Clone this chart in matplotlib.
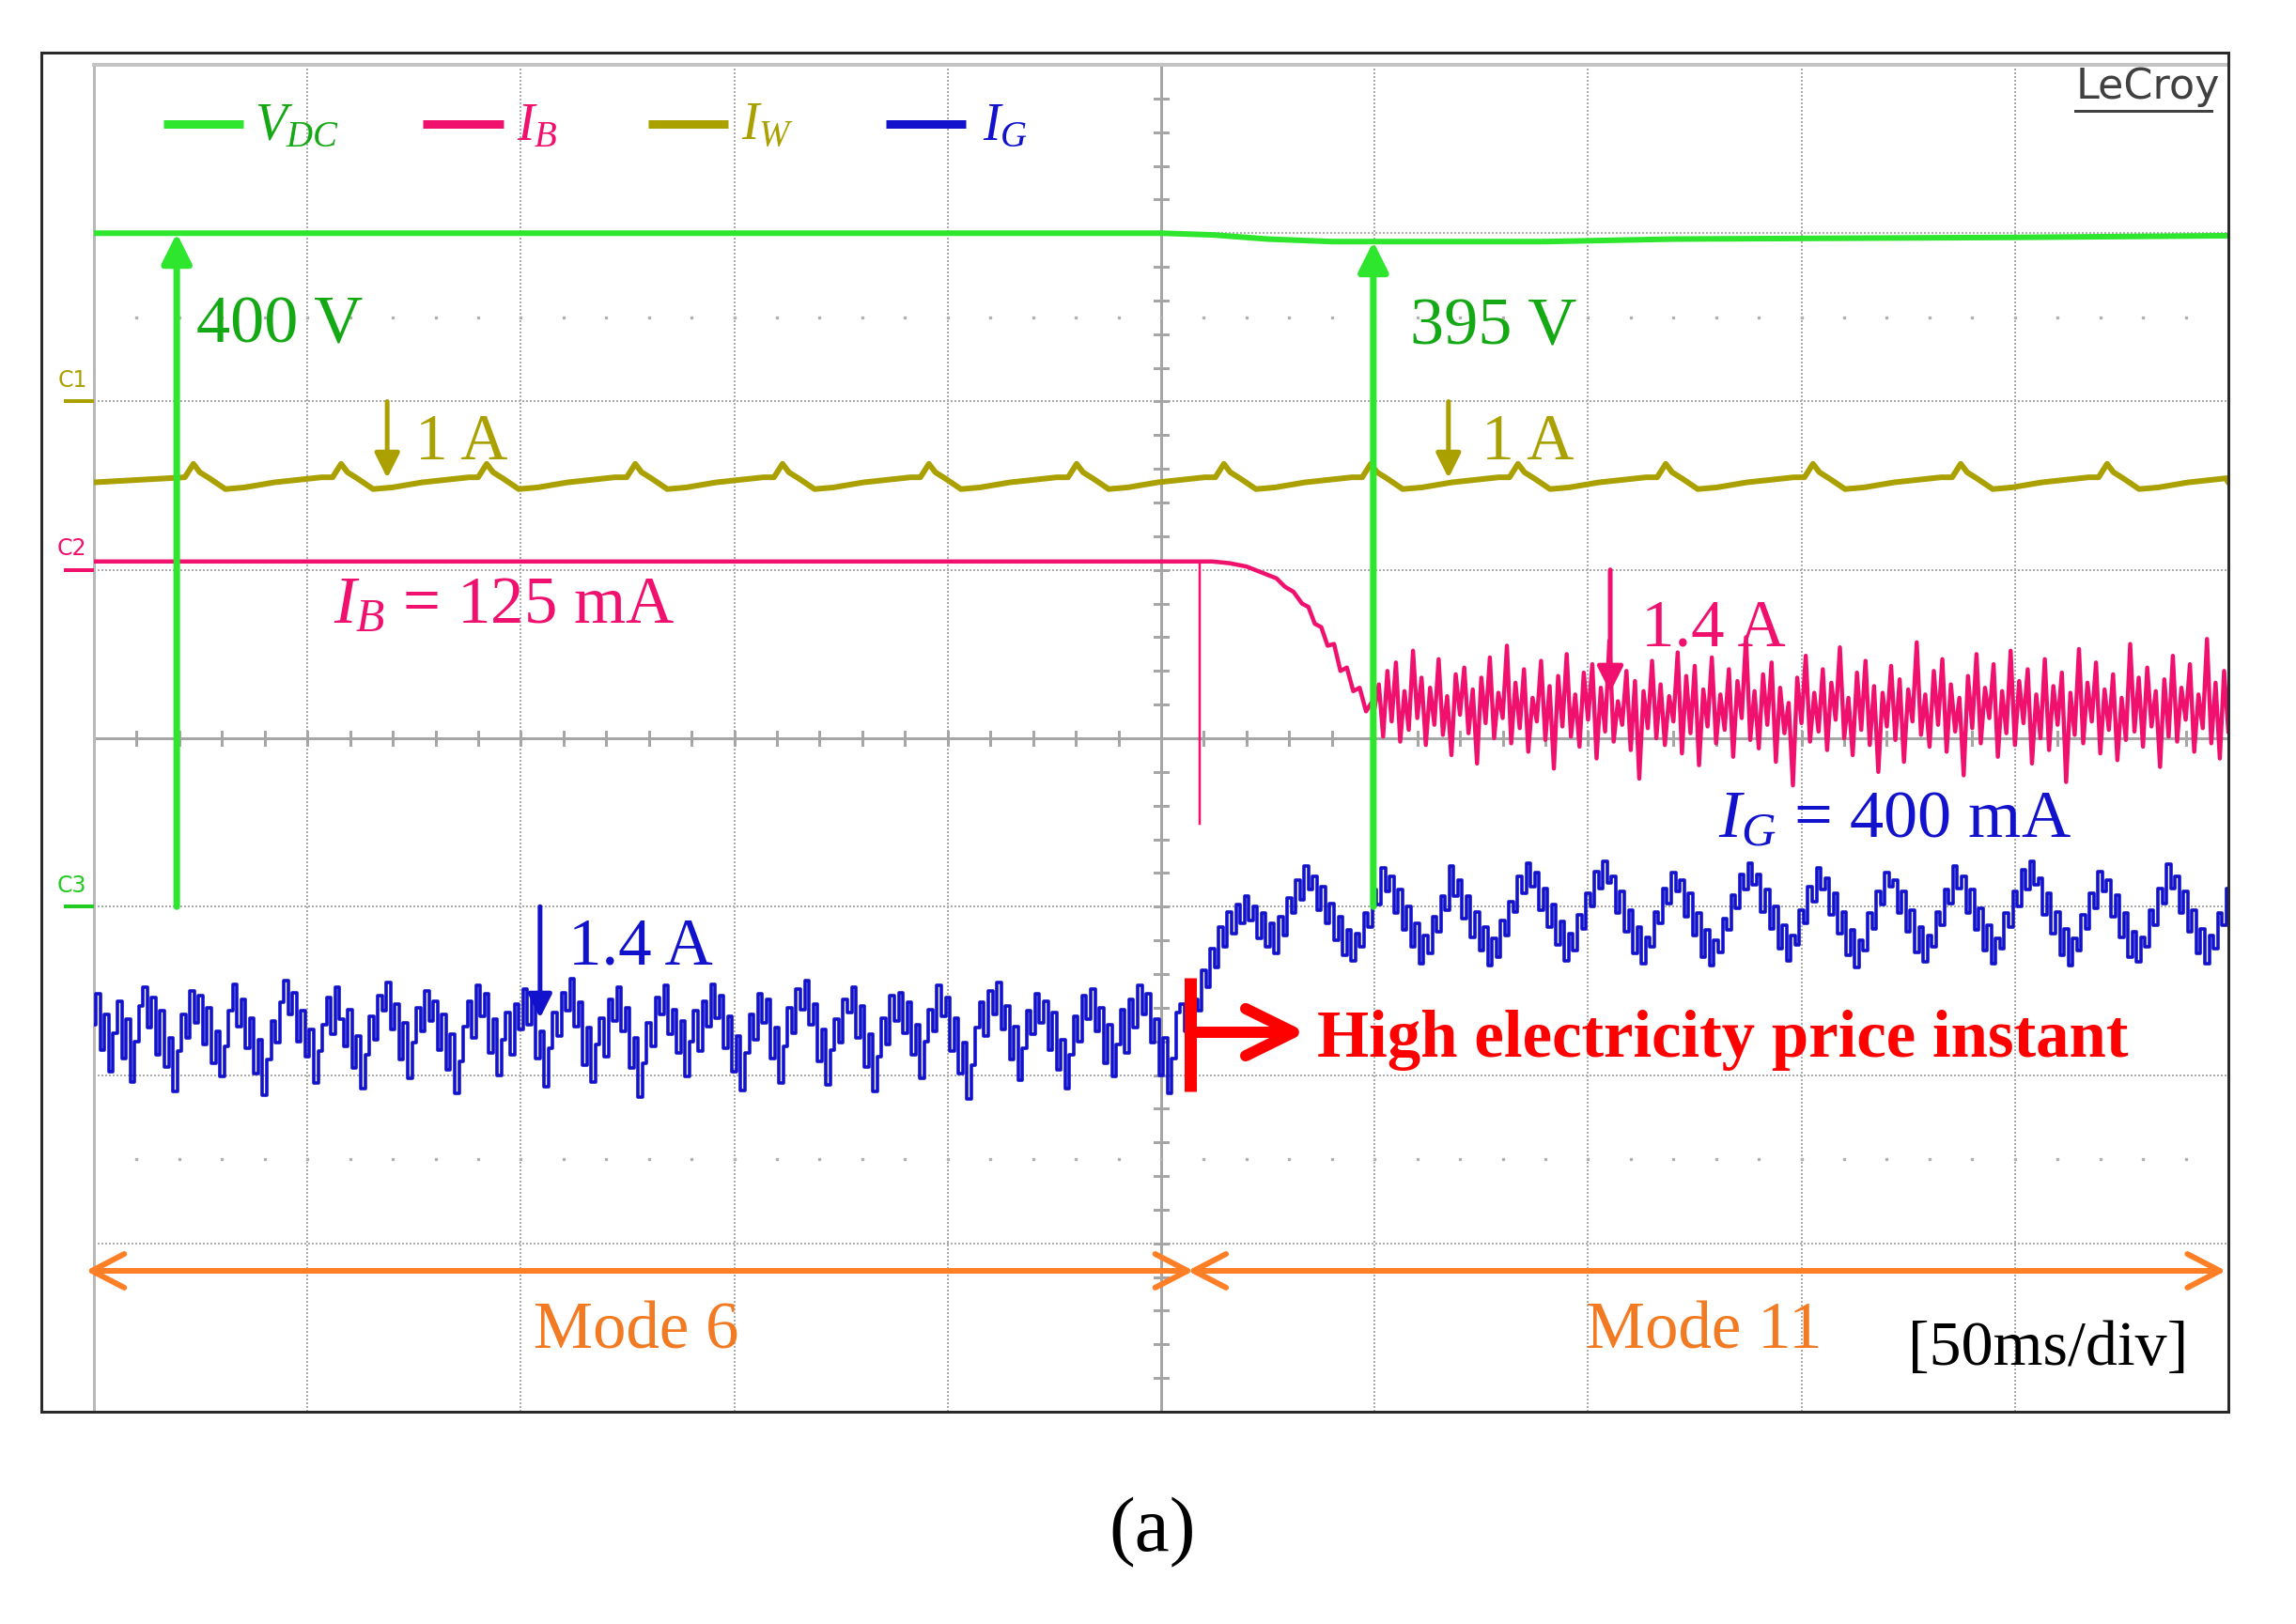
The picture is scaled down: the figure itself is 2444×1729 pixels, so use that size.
"""Oscilloscope capture: DC bus voltage and branch currents around a price step."""

import numpy as np
import matplotlib
matplotlib.use("Agg")
import matplotlib.pyplot as plt
from matplotlib.patches import Rectangle

# ---- data (time in ms, 50 ms/div; trace levels in screen divisions, 0..8) ----
VDC_T = [0, 250, 262, 275, 290, 340, 370, 450, 500]
VDC_V = [7.00, 7.00, 6.99, 6.965, 6.95, 6.95, 6.965, 6.975, 6.985]

IW_BASE = 5.52
IW_PEAK_T = [23.3, 57.9, 92.0, 126.8, 161.3, 195.6, 230.2, 264.7,
             299.1, 333.6, 368.2, 402.7, 437.3, 471.6]
IW_PULSE_DT = [-2.0, 0.0, 1.5, 4.0, 7.5, 12.0, 19.0, 30.0]
IW_PULSE_DV = [0.03, 0.11, 0.06, 0.02, -0.04, -0.03, 0.0, 0.03]

IB_T = [0, 262, 266, 270, 274, 277, 279, 281, 283, 284.5, 286, 287.5, 289, 290.5,
        292, 293.5, 295, 296.5, 298, 299.5]
IB_V = [5.05, 5.05, 5.04, 5.02, 4.98, 4.95, 4.90, 4.87, 4.80, 4.78, 4.68, 4.66, 4.55, 4.56,
        4.40, 4.42, 4.28, 4.30, 4.16, 4.22]
IB_SPIKE = (259.0, 5.05, 3.49)
# mode 11 battery current, 1 ms samples from 300 ms (hundredths of a div)
IB_NOISE = [
    418, 432, 401, 440, 410, 445, 398, 428, 405, 452, 412, 436, 396, 430, 408, 447, 402, 425, 390, 438,
    414, 442, 403, 429, 385, 436, 409, 448, 400, 427, 412, 455, 397, 433, 406, 441, 392, 424, 410, 446,
    399, 431, 382, 437, 407, 450, 401, 426, 395, 439, 411, 444, 388, 430, 404, 458, 398, 422, 408, 440,
    393, 434, 376, 428, 406, 446, 400, 432, 396, 425, 410, 451, 391, 437, 403, 443, 384, 429, 407, 448,
    397, 426, 405, 441, 389, 434, 412, 460, 399, 428, 394, 438, 408, 445, 386, 430, 403, 421, 372, 436,
    409, 449, 398, 427, 404, 441, 393, 433, 411, 454, 400, 424, 390, 439, 405, 446, 396, 431, 380, 427,
    407, 443, 399, 435, 386, 429, 410, 457, 402, 426, 395, 440, 408, 447, 392, 432, 404, 424, 378, 437,
    406, 450, 397, 430, 412, 444, 389, 428, 403, 452, 396, 434, 409, 441, 385, 426, 400, 447, 393, 431,
    408, 439, 374, 427, 402, 453, 397, 433, 410, 445, 391, 429, 405, 438, 387, 424, 399, 456, 404, 436,
    395, 442, 407, 428, 383, 435, 401, 449, 398, 430, 411, 444, 392, 426, 406, 459, 397, 433, 388, 440,
    404,
]

# grid current, 1 ms samples (hundredths of a div): mode 6 from 0 ms, mode 11 from 257 ms
IG_MODE6 = [
    230, 248, 215, 236, 202, 225, 244, 210, 233, 196, 220, 241, 252, 228, 246, 212, 238, 205, 222, 190,
    214, 236, 222, 250, 231, 247, 218, 240, 207, 226, 199, 217, 238, 254, 229, 245, 216, 234, 201, 221,
    188, 209, 232, 219, 243, 256, 236, 249, 220, 238, 211, 227, 195, 214, 230, 246, 224, 252, 233, 217,
    239, 204, 223, 192, 212, 235, 221, 247, 238, 255, 227, 242, 209, 231, 198, 219, 240, 226, 250, 232,
    244, 215, 236, 203, 224, 189, 208, 229, 244, 222, 253, 235, 248, 213, 233, 200, 221, 237, 212, 242,
    227, 251, 230, 246, 210, 226, 193, 216, 237, 223, 249, 238, 257, 229, 243, 206, 228, 196, 218, 234,
    211, 245, 232, 252, 226, 240, 204, 222, 187, 207, 231, 217, 246, 236, 253, 224, 239, 213, 232, 199,
    220, 238, 214, 244, 229, 254, 234, 247, 216, 235, 202, 223, 191, 213, 236, 221, 248, 231, 245, 210,
    228, 195, 217, 240, 225, 251, 239, 256, 230, 242, 208, 227, 194, 215, 233, 219, 245, 237, 252, 222,
    241, 205, 224, 190, 211, 234, 218, 247, 232, 249, 225, 243, 212, 230, 198, 220, 239, 226, 253, 235,
    246, 214, 234, 201, 219, 186, 206, 228, 243, 223, 250, 236, 255, 227, 241, 209, 229, 197, 216, 238,
    224, 248, 231, 244, 215, 237, 203, 221, 192, 212, 235, 220, 247, 233, 251, 226, 240, 207, 230, 199,
    218, 239, 213, 245, 228, 253, 236, 248, 219, 233, 200, 222, 189, 210, 237, 242, 226,
]
IG_MODE11 = [
    228, 245, 238, 262, 252, 275, 264, 288, 276, 297, 284, 301, 290, 306, 292, 300, 281, 296, 276, 290,
    272, 294, 283, 305, 296, 316, 304, 324, 310, 318, 298, 312, 290, 302, 280, 294, 271, 286, 268, 284,
    276, 296, 288, 310, 301, 323, 309, 318, 296, 310, 286, 300, 276, 290, 266, 283, 272, 294, 285, 306,
    298, 324, 306, 316, 293, 306, 282, 297, 274, 288, 265, 281, 270, 292, 283, 303, 297, 318, 308, 326,
    312, 320, 298, 311, 288, 301, 277, 291, 268, 284, 274, 295, 287, 308, 300, 321, 311, 327, 314, 318,
    296, 309, 285, 298, 272, 288, 266, 282, 276, 297, 290, 311, 302, 320, 309, 316, 294, 308, 283, 296,
    270, 286, 265, 280, 273, 293, 286, 307, 299, 319, 310, 326, 313, 319, 297, 310, 287, 300, 275, 289,
    268, 283, 277, 298, 290, 312, 303, 323, 310, 317, 295, 308, 284, 297, 271, 286, 264, 280, 274, 296,
    287, 309, 301, 320, 312, 316, 296, 309, 285, 298, 273, 288, 267, 283, 276, 297, 289, 310, 302, 324,
    311, 318, 296, 310, 286, 299, 274, 289, 266, 281, 275, 296, 288, 309, 300, 322, 310, 327, 313, 317,
    295, 308, 284, 297, 271, 287, 265, 281, 274, 295, 287, 308, 299, 321, 309, 316, 294, 307, 282, 296,
    270, 285, 267, 282, 276, 298, 289, 311, 302, 325, 311, 318, 296, 309, 285, 298, 272, 287, 266, 283,
    275, 296, 289, 311,
]

C_GREEN = "#2ee62e"
C_GREEN_TXT = "#14a814"
C_PINK = "#f0106e"
C_OLIVE = "#aaa000"
C_BLUE = "#1212cc"
C_RED = "#ff0000"
C_ORANGE = "#ff7f27"

W, H, DPI = 2444, 1729, 100
PT = 72.0 / DPI  # points per pixel

plt.rcParams["font.family"] = ["Liberation Serif", "DejaVu Serif"]
plt.rcParams["mathtext.fontset"] = "custom"
plt.rcParams["mathtext.rm"] = "Liberation Serif"
plt.rcParams["mathtext.it"] = "Liberation Serif:italic"

fig = plt.figure(figsize=(W / DPI, H / DPI), dpi=DPI)
ax = fig.add_axes([100 / W, 1 - 1503 / H, 2272 / W, 1434 / H])
ax.set_xlim(0, 500)
ax.set_ylim(0, 8)
ax.set_xticks([])
ax.set_yticks([])
for s in ax.spines.values():
    s.set_visible(False)

# outer screen frame
fig.add_artist(Rectangle((44 / W, 1 - 1503 / H), (2372 - 44) / W, (1503 - 56) / H,
                         transform=fig.transFigure, fill=False, ec="#2a2a2a", lw=3 * PT))

# graticule
grid_kw = dict(color="#adadad", lw=2 * PT, ls=(0, (1, 1)), zorder=1)
for gx in range(50, 500, 50):
    if gx != 250:
        ax.axvline(gx, **grid_kw)
for gy in range(1, 8):
    if gy != 4:
        ax.axhline(gy, **grid_kw)
ax.axvline(250, color="#a6a6a6", lw=3 * PT, zorder=1)
ax.axhline(4, color="#a6a6a6", lw=3 * PT, zorder=1)
ax.axvline(0, color="#b8b8b8", lw=3 * PT, zorder=1, clip_on=False)
ax.axhline(8, color="#c4c4c4", lw=4 * PT, zorder=1, clip_on=False)
for yy in np.arange(0.2, 8, 0.2):
    ax.plot([248.4, 251.6], [yy, yy], color="#a6a6a6", lw=3 * PT, zorder=1)
for xx in range(10, 500, 10):
    ax.plot([xx, xx], [3.962, 4.038], color="#a6a6a6", lw=3 * PT, zorder=1)
dots_x = np.arange(10, 500, 10)
for yy in (6.5, 1.5):
    ax.plot(dots_x, np.full(len(dots_x), yy), ls="none", marker="s", ms=2.5 * PT,
            color="#b0b0b0", zorder=1)

# channel ground markers
for lvl, lab, col in ((6.0, "C1", C_OLIVE), (5.0, "C2", C_PINK), (3.0, "C3", "#22cc22")):
    ax.plot([-7.0, 0], [lvl, lvl], color=col, lw=4 * PT, clip_on=False, solid_capstyle="butt")
    ax.text(-5.1, lvl + 0.125, lab, color=col, fontsize=17, ha="center", va="center",
            family=["Liberation Sans Narrow", "DejaVu Sans"], clip_on=False)

# traces
ax.plot(VDC_T, VDC_V, color=C_GREEN, lw=6 * PT, zorder=3)

iw_t, iw_v = [0.0], [IW_BASE]
for pk in IW_PEAK_T:
    iw_t += [pk + d for d in IW_PULSE_DT]
    iw_v += [IW_BASE + d for d in IW_PULSE_DV]
iw_t.append(500.0)
iw_v.append(IW_BASE)
ax.plot(iw_t, iw_v, color=C_OLIVE, lw=6 * PT, zorder=3)

ib_noise = np.array(IB_NOISE) / 100.0
ib_nt = 300 + np.arange(len(ib_noise))
ax.plot(IB_T, IB_V, color=C_PINK, lw=4.5 * PT, zorder=3)
ax.plot(ib_nt, ib_noise, color=C_PINK, lw=4.4 * PT, zorder=3)
ax.plot([IB_SPIKE[0]] * 2, IB_SPIKE[1:], color=C_PINK, lw=2.5 * PT, zorder=3)

ig6 = np.array(IG_MODE6) / 100.0
ig11 = np.array(IG_MODE11) / 100.0
ig_t = np.concatenate([np.arange(len(ig6)), 257 + np.arange(len(ig11))])
ax.plot(ig_t, np.concatenate([ig6, ig11]), color=C_BLUE, lw=3.6 * PT,
        drawstyle="steps-mid", zorder=3)

# legend row
leg = [(16.3, 34.9, 37.6, r"$V_{DC}$", C_GREEN, C_GREEN_TXT),
       (77.0, 95.9, 99.0, r"$I_B$", C_PINK, C_PINK),
       (129.8, 148.5, 151.6, r"$I_W$", C_OLIVE, C_OLIVE),
       (185.5, 204.2, 208.2, r"$I_G$", C_BLUE, C_BLUE)]
for x0, x1, xt, lab, lc, tc in leg:
    ax.plot([x0, x1], [7.65, 7.65], color=lc, lw=9 * PT, solid_capstyle="butt", zorder=4)
    ax.text(xt, 7.55, lab, color=tc, fontsize=40, ha="left", va="baseline", zorder=6)

ax.text(464.2, 7.80, "LeCroy", family="DejaVu Sans", fontsize=32, color="#404040",
        ha="left", va="baseline", zorder=6)
ax.plot([464.2, 496.1], [7.727, 7.727], color="#404040", lw=3 * PT, zorder=6)


def arrow(x, y0, y1, color, lw_px, scale):
    ax.annotate("", xy=(x, y1), xytext=(x, y0), zorder=5,
                arrowprops=dict(arrowstyle="-|>", color=color, lw=lw_px * PT,
                                mutation_scale=scale, shrinkA=0, shrinkB=0))


# voltage markers
arrow(19.4, 3.0, 7.0, C_GREEN, 7, 48)
arrow(299.7, 3.0, 6.95, C_GREEN, 7, 48)
ax.text(24.0, 6.354, "400 V", color=C_GREEN_TXT, fontsize=52, ha="left", va="baseline", zorder=6)
ax.text(308.3, 6.343, "395 V", color=C_GREEN_TXT, fontsize=52, ha="left", va="baseline", zorder=6)

# current markers
arrow(68.7, 6.0, 5.545, C_OLIVE, 5, 40)
arrow(317.3, 6.0, 5.545, C_OLIVE, 5, 40)
ax.text(75.3, 5.657, "1 A", color=C_OLIVE, fontsize=50, ha="left", va="baseline", zorder=6)
ax.text(325.0, 5.657, "1 A", color=C_OLIVE, fontsize=50, ha="left", va="baseline", zorder=6)

ax.text(56.1, 4.686, r"$I_B$ = 125 mA", color=C_PINK, fontsize=51, ha="left",
        va="baseline", zorder=6)
arrow(355.2, 5.0, 4.273, C_PINK, 5, 42)
ax.text(362.5, 4.552, "1.4 A", color=C_PINK, fontsize=51, ha="left", va="baseline", zorder=6)

ax.text(380.5, 3.409, r"$I_G$ = 400 mA", color=C_BLUE, fontsize=52, ha="left",
        va="baseline", zorder=6)
arrow(104.5, 3.0, 2.338, C_BLUE, 5, 38)
ax.text(111.1, 2.661, "1.4 A", color=C_BLUE, fontsize=51, ha="left", va="baseline", zorder=6)

# price step marker
ax.plot([256.8, 256.8], [1.90, 2.58], color=C_RED, lw=13 * PT, solid_capstyle="butt", zorder=5)
ax.plot([256.8, 280.5], [2.254, 2.254], color=C_RED, lw=12 * PT, solid_capstyle="round", zorder=5)
ax.plot([269.8, 281.0, 269.8], [2.394, 2.254, 2.114], color=C_RED, lw=12 * PT,
        solid_capstyle="round", solid_joinstyle="round", zorder=5)
ax.text(286.5, 2.109, "High electricity price instant", color=C_RED, fontsize=51,
        fontweight="bold", ha="left", va="baseline", zorder=6)


def span(x0, x1, y):
    kw = dict(color=C_ORANGE, lw=6 * PT, solid_capstyle="round", solid_joinstyle="round",
              zorder=5, clip_on=False)
    ax.plot([x0, x1], [y, y], **kw)
    ax.plot([x0 + 7.6, x0, x0 + 7.6], [y + 0.1, y, y - 0.1], **kw)
    ax.plot([x1 - 7.6, x1, x1 - 7.6], [y + 0.1, y, y - 0.1], **kw)


span(-0.5, 256.2, 0.837)
span(257.6, 498.0, 0.837)
ax.text(127.0, 0.379, "Mode 6", color="#f27a22", fontsize=51, ha="center", va="baseline", zorder=6)
ax.text(377.2, 0.374, "Mode 11", color="#f27a22", fontsize=51, ha="center", va="baseline", zorder=6)
ax.text(425.0, 0.279, "[50ms/div]", color="black", fontsize=49, ha="left", va="baseline", zorder=6)

fig.text(1227 / W, 1 - 1632 / H, "(a)", fontsize=60, ha="center", va="center")

fig.savefig("out.png", dpi=DPI)
